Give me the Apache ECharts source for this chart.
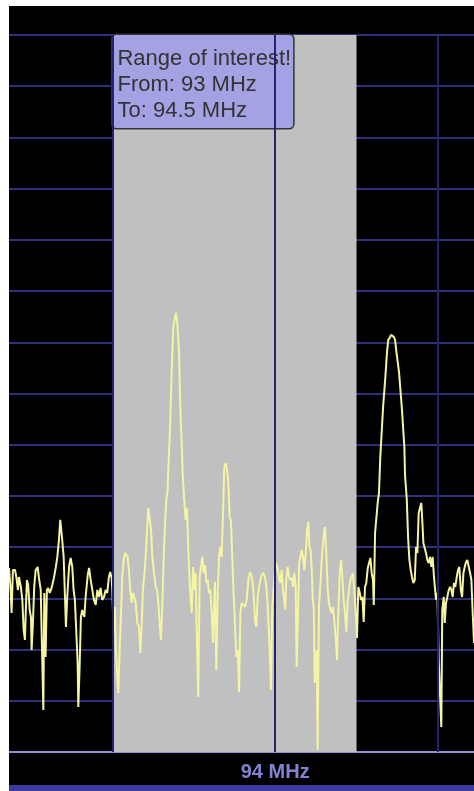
<!DOCTYPE html>
<html>
<head>
<meta charset="utf-8">
<script src="https://cdn.jsdelivr.net/npm/echarts@6/dist/echarts.min.js"></script>
<style>
  html, body { margin: 0; padding: 0; background: #ffffff; }
  #chart { position: absolute; left: 9px; top: 6px; width: 465px; height: 785px; }
</style>
</head>
<body>
<div id="chart"></div>
<script>
// Frequency (MHz) of each sample
const freq = [
  92.364,92.374,92.380,92.388,92.401,92.409,92.419,92.425,92.437,92.446,
  92.454,92.462,92.466,92.474,92.482,92.491,92.499,92.503,92.511,92.519,
  92.528,92.540,92.548,92.559,92.568,92.575,92.581,92.589,92.597,92.605,
  92.614,92.622,92.630,92.640,92.651,92.661,92.671,92.679,92.688,92.691,
  92.700,92.708,92.714,92.722,92.733,92.743,92.753,92.761,92.769,92.777,
  92.786,92.790,92.798,92.806,92.814,92.827,92.835,92.848,
  92.856,92.866,92.876,92.886,92.897,92.907,92.917,92.927,92.937,92.948,
  92.958,92.968,92.978,92.986,92.995,92.999,93.007,93.015,93.020,93.028,
  93.036,93.044,93.052,93.060,93.069,93.077,93.085,93.093,93.101,93.109,
  93.118,93.126,93.134,93.143,93.152,93.163,93.171,93.180,93.187,93.195,
  93.204,93.212,93.220,93.229,93.237,93.245,93.255,93.266,93.274,93.282,
  93.290,93.298,93.306,93.315,93.323,93.331,93.339,
  93.343,93.353,93.364,93.374,93.384,93.390,93.398,93.405,93.409,93.417,
  93.425,93.433,93.441,93.450,93.458,93.466,93.476,93.487,93.495,93.503,
  93.511,93.519,93.527,93.536,93.544,93.552,93.561,93.569,93.577,93.585,
  93.593,93.601,93.610,93.618,93.622,93.630,93.638,93.647,93.655,93.663,
  93.671,93.679,93.687,93.696,93.704,93.712,93.720,93.728,93.736,93.745,
  93.753,93.761,93.770,93.778,93.786,93.794,93.806,
  93.815,93.825,93.835,93.845,93.856,93.866,93.876,93.884,93.893,93.901,
  93.909,93.917,93.927,93.938,93.946,93.954,93.962,93.968,93.974,93.982,
  93.991,93.999,94.007,94.016,94.024,94.032,94.040,94.048,94.056,94.062,
  94.068,94.077,94.085,94.093,94.102,94.110,94.118,94.126,94.132,94.139,
  94.147,94.155,94.163,94.171,94.179,94.188,94.196,94.204,94.210,94.218,
  94.225,94.231,94.237,94.243,94.249,94.255,94.261,94.269,94.277,94.286,
  94.294,94.302,
  94.306,94.314,94.323,94.331,94.339,94.347,94.355,94.363,94.372,94.380,
  94.388,94.397,94.405,94.413,94.421,94.429,94.437,94.446,94.454,94.462,
  94.470,94.478,94.486,94.495,94.503,94.511,94.520,94.528,94.536,94.544,
  94.552,94.560,94.569,94.577,94.585,94.593,94.601,94.606,94.614,94.624,
  94.630,94.638,94.646,94.655,94.663,94.671,94.679,94.687,94.695,94.704,
  94.712,94.720,94.729,94.737,94.745,94.753,94.761,94.769,94.778,94.786,
  94.794,94.798,94.809,94.817,94.825,94.833,94.841,94.849,94.858,94.866,
  94.874,94.882,94.890,94.898,94.904,94.911,94.919,94.927,94.935,94.944,
  94.952,94.960,94.968,94.976,94.983,94.989,94.997,95.005,95.013,95.021,
  95.027,95.036,95.042,95.050,95.058,95.067,95.075,95.083,95.091,95.099,
  95.107,95.116,95.124,95.132,95.141,95.149,95.157,95.165,95.173,95.181,
  95.190,95.198,95.206,95.214,95.222
];

// Signal level of each sample (arbitrary units above the floor)
const level = [
  184,162,139,182,182,175,162,175,165,152,
  122,112,135,172,167,142,135,102,129,165,
  182,185,174,162,95,42,159,95,162,164,
  159,162,167,174,184,195,212,232,232,212,
  195,155,125,155,185,194,185,162,152,122,
  89,45,85,135,142,135,155,177,
  184,172,162,152,147,162,155,164,152,155,
  162,159,175,180,174,162,119,145,105,79,
  59,102,135,175,192,199,200,195,182,162,
  149,159,155,149,129,125,99,129,162,175,
  195,219,244,245,222,195,179,165,162,149,
  129,112,145,195,229,252,262,
  282,320,382,425,425,439,430,430,400,345,
  345,274,252,232,244,202,164,139,185,162,
  179,112,55,175,185,195,179,187,169,172,
  159,162,139,109,132,170,82,159,195,205,
  195,235,284,289,282,270,234,232,195,157,
  127,95,102,60,139,149,150,
  145,152,172,180,175,162,132,125,155,165,
  172,177,179,174,165,145,119,95,62,145,
  165,182,189,182,174,169,182,162,152,142,
  172,185,175,172,174,165,179,165,85,129,
  189,195,202,195,182,199,222,230,205,202,
  182,152,145,69,69,102,2,145,165,192,
  209,222,
  225,199,162,149,142,139,145,132,115,92,
  139,179,192,175,152,139,120,152,162,172,
  175,179,162,139,114,165,159,152,155,130,
  165,169,184,185,194,179,172,147,219,220,
  249,259,295,295,344,344,379,399,412,414,
  417,417,415,412,400,400,380,380,345,345,
  305,277,252,214,192,182,175,169,172,205,
  199,239,244,249,232,209,209,199,192,189,
  195,185,195,175,162,152,159,92,92,25,
  142,155,129,149,155,162,165,162,155,169,
  165,175,182,185,162,155,179,185,190,192,
  185,179,172,139,109
];

const bandRange = [93, 94.5];            // Range of interest, MHz
const gridFreqs = [93, 94, 95];          // vertical grid lines, MHz
const labelFreqs = [94];                 // x-axis tick labels, MHz
const bandText = ['Range of interest!', 'From: 93 MHz', 'To: 94.5 MHz'];
const xRange = [92.364, 95.222];
const yMax = 716.8, yStep = 51.2;

const chart = echarts.init(document.getElementById('chart'));
const FONT = '"Liberation Sans", Arial, sans-serif';

chart.setOption({
  backgroundColor: '#000000',
  animation: false,
  grid: { left: 0, right: 0, top: 29, bottom: 39, containLabel: false },
  xAxis: {
    type: 'value',
    min: xRange[0], max: xRange[1],
    splitLine: { show: false },
    axisTick: { show: false },
    axisLine: { show: true, lineStyle: { color: '#9090d0', width: 2 } },
    axisLabel: {
      customValues: labelFreqs,
      formatter: '{value} MHz',
      color: '#8282d2',
      fontFamily: FONT,
      fontSize: 20,
      fontWeight: 'bold',
      margin: 10
    }
  },
  yAxis: {
    type: 'value',
    min: 0, max: yMax, interval: yStep,
    axisLabel: { show: false },
    axisTick: { show: false },
    axisLine: { show: false },
    splitLine: { show: true, lineStyle: { color: '#30307a', width: 2 } }
  },
  graphic: [{
    type: 'rect',
    left: 0, bottom: 0,
    shape: { width: 465, height: 6 },
    style: { fill: '#3a3aa0' }
  }],
  series: [
    {
      name: 'band',
      type: 'line',
      z: -1,
      data: [],
      markArea: {
        silent: true,
        itemStyle: { color: '#c0c0c0' },
        label: { show: false },
        data: [[{ xAxis: bandRange[0] }, { xAxis: bandRange[1] }]]
      }
    },
    {
      name: 'vgrid',
      type: 'line',
      z: 1,
      data: [],
      markLine: {
        silent: true,
        symbol: ['none', 'none'],
        label: { show: false },
        lineStyle: { color: '#24246e', width: 2, type: 'solid' },
        data: gridFreqs.map(f => ({ xAxis: f }))
      }
    },
    {
      name: 'spectrum',
      type: 'line',
      z: 2,
      showSymbol: false,
      symbol: 'none',
      data: freq.map((f, i) => [f, level[i]]),
      lineStyle: { color: '#f4f4a2', width: 2 }
    },
    {
      name: 'bandLabel',
      type: 'line',
      z: 10,
      data: [],
      markArea: {
        silent: true,
        itemStyle: { color: 'rgba(0,0,0,0)' },
        label: {
          show: true,
          position: 'insideTopLeft',
          distance: 0,
          formatter: bandText.join('\n'),
          color: '#333333',
          fontFamily: FONT,
          fontSize: 22,
          lineHeight: 26,
          backgroundColor: '#a4a2e2',
          borderColor: '#333333',
          borderWidth: 1.5,
          borderRadius: 4,
          padding: [11, 2, 4, 5]
        },
        data: [[{ xAxis: bandRange[0] }, { xAxis: bandRange[1] }]]
      }
    }
  ]
});
</script>
</body>
</html>
